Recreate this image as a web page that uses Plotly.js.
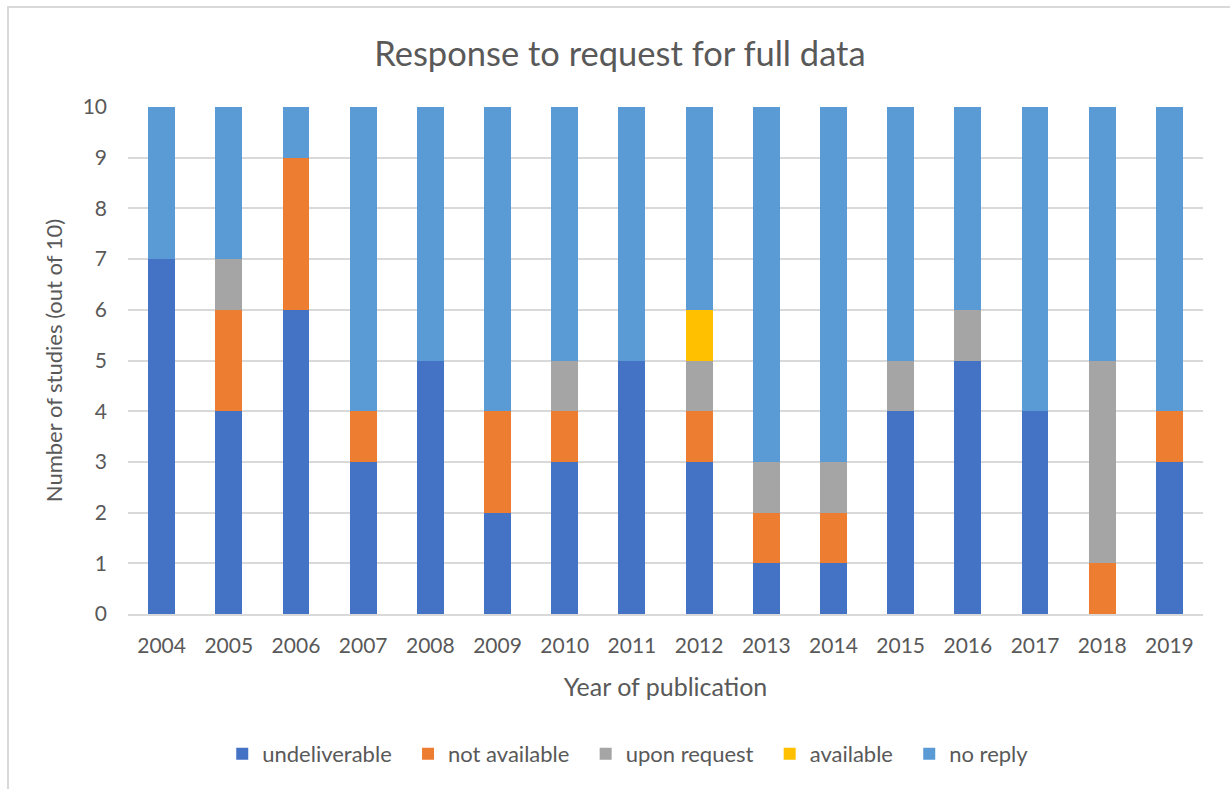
<!DOCTYPE html>
<html>
<head>
<meta charset="utf-8">
<script src="https://cdn.plot.ly/plotly-3.0.1.min.js"></script>
<style>
  html, body { margin: 0; padding: 0; background: #ffffff; }
  #frame { position: absolute; left: 7px; top: 6px; width: 1240px; height: 800px;
           border-left: 2px solid #d9d9d9; border-top: 2px solid #d9d9d9; }
  #chart { position: absolute; left: 0; top: 0; width: 1230px; height: 789px; }
</style>
</head>
<body>
<div id="frame"></div>
<div id="chart"></div>
<script>
const years = ["2004","2005","2006","2007","2008","2009","2010","2011","2012","2013","2014","2015","2016","2017","2018","2019"];
const undeliverable = [7,4,6,3,5,2,3,5,3,1,1,4,5,4,0,3];
const notAvailable  = [0,2,3,1,0,2,1,0,1,1,1,0,0,0,1,1];
const uponRequest   = [0,1,0,0,0,0,1,0,1,1,1,1,1,0,4,0];
const available     = [0,0,0,0,0,0,0,0,1,0,0,0,0,0,0,0];
const noReply       = [3,3,1,6,5,6,5,5,4,7,7,5,4,6,5,6];

const seriesNames  = ["undeliverable","not available","upon request","available","no reply"];
const seriesValues = [undeliverable, notAvailable, uponRequest, available, noReply];
const seriesColors = ["#4472C4","#ED7D31","#A5A5A5","#FFC000","#5B9BD5"];

const FONT = "Lato, Carlito, Calibri, 'Open Sans', sans-serif";
const TXT = "#595959";
const PAD = "\u00a0\u00a0";

const traces = seriesNames.map((name, i) => ({
  type: "bar",
  name: name + PAD,
  x: years,
  y: seriesValues[i],
  marker: { color: seriesColors[i], line: { width: 0 } },
  hoverinfo: "x+y+name"
}));

const layout = {
  width: 1230,
  height: 789,
  barmode: "stack",
  bargap: 0.6,
  paper_bgcolor: "rgba(0,0,0,0)",
  plot_bgcolor: "rgba(0,0,0,0)",
  margin: { l: 128, r: 27, t: 107, b: 175 },
  font: { family: FONT, color: TXT, size: 21 },
  title: {
    text: "Response to request for full data",
    font: { family: FONT, size: 34.5, color: TXT },
    x: 0.504, xref: "container", xanchor: "center",
    y: 51, yref: "container", yanchor: "middle"
  },
  xaxis: {
    type: "category",
    tickfont: { family: FONT, size: 21, color: TXT },
    showgrid: false,
    showline: true, linecolor: "#d9d9d9", linewidth: 2,
    ticks: "",
    ticklabelstandoff: 12,
    title: { text: "Year of publication", font: { family: FONT, size: 25, color: TXT }, standoff: 22 }
  },
  yaxis: {
    range: [0, 10],
    dtick: 1,
    tickfont: { family: FONT, size: 21, color: TXT },
    showgrid: true, gridcolor: "#d9d9d9", gridwidth: 2,
    zeroline: false,
    showline: false,
    ticks: "",
    ticklabelstandoff: 20,
    title: { text: "Number of studies (out of 10)", font: { family: FONT, size: 22, color: TXT }, standoff: 13 }
  },
  legend: {
    orientation: "h",
    x: 0.47, xanchor: "center",
    y: -0.276, yanchor: "middle",
    font: { family: FONT, size: 22, color: TXT },
    traceorder: "normal",
    itemwidth: 30
  },
  showlegend: true
};

Plotly.newPlot("chart", traces, layout, { displayModeBar: false, staticPlot: true });
</script>
</body>
</html>
